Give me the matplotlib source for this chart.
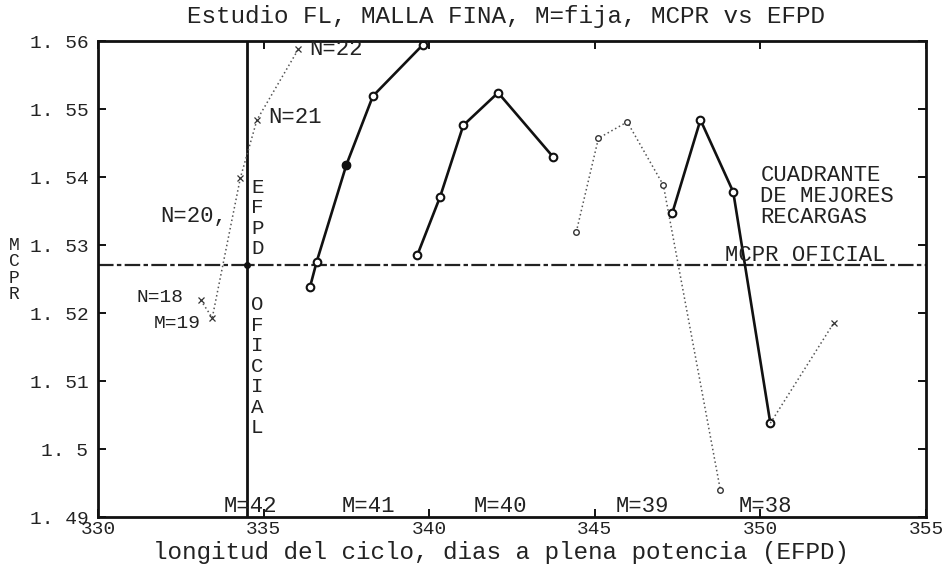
import matplotlib
matplotlib.use("Agg")
import matplotlib.pyplot as plt
from matplotlib.ticker import FixedLocator, FuncFormatter

# ---- data -------------------------------------------------------------
efpd_oficial = 334.5
mcpr_oficial = 1.527

# M = 42, N = 18..22 (dotted)
m42_efpd = [333.1, 333.45, 334.3, 334.8, 336.05]
m42_mcpr = [1.5219, 1.5193, 1.5399, 1.5484, 1.5588]
m42_labels = ["N=18", "M=19", "N=20,", "N=21", "N=22"]

# M = 41 (solid)
m41_efpd = [336.4, 336.6, 337.5, 338.3, 339.8]
m41_mcpr = [1.5238, 1.5275, 1.5418, 1.5519, 1.5594]

# M = 40 (solid)
m40_efpd = [339.64, 340.33, 341.03, 342.08, 343.75]
m40_mcpr = [1.5285, 1.5371, 1.5476, 1.5524, 1.5429]

# M = 39 (dotted)
m39_efpd = [344.44, 345.11, 345.98, 347.07, 348.79]
m39_mcpr = [1.5319, 1.5457, 1.5481, 1.5388, 1.4940]

# M = 38 (solid, plus dotted continuation)
m38_efpd = [347.34, 348.19, 349.18, 350.30]
m38_mcpr = [1.5347, 1.5484, 1.5378, 1.5038]
m38_ext_efpd = [352.21]
m38_ext_mcpr = [1.5185]

m_labels = ["M=42", "M=41", "M=40", "M=39", "M=38"]
m_label_x = [333.78, 337.37, 341.33, 345.62, 349.34]

x_ticks = [330, 335, 340, 345, 350, 355]
y_ticks = [1.49, 1.50, 1.51, 1.52, 1.53, 1.54, 1.55, 1.56]

title = "Estudio FL, MALLA FINA, M=fija, MCPR vs EFPD"
x_label = "longitud del ciclo, dias a plena potencia (EFPD)"
y_label = "M\nC\nP\nR"

# ---- figure -----------------------------------------------------------
W, H = 943, 580
plt.rcParams["font.family"] = ["Liberation Mono", "DejaVu Sans Mono"]
fig = plt.figure(figsize=(W / 100, H / 100), dpi=100)
ax = fig.add_axes([98 / W, 1 - 517 / H, (926 - 98) / W, (517 - 41) / H])

ink = "#111111"
txt = "#222222"
dotted = dict(color="#555555", lw=1.1, ls=(0, (1, 1.8)))
solid = dict(color=ink, lw=1.9, marker="o", ms=5.5, mfc="white", mec=ink, mew=1.5)

# reference lines
ax.axvline(efpd_oficial, color=ink, lw=2.0, zorder=2)
ax.axhline(mcpr_oficial, color="#222222", lw=1.6, ls=(0, (7, 1.5, 2, 1.5)), zorder=2)
ax.plot([efpd_oficial], [mcpr_oficial], "o", color=ink, ms=4, zorder=3)

# series
ax.plot(m42_efpd, m42_mcpr, marker="x", ms=4, mew=0.9, mec="#333333", **dotted)
ax.plot(m41_efpd, m41_mcpr, **solid)
ax.plot([m41_efpd[2]], [m41_mcpr[2]], "o", color=ink, ms=5.5, zorder=4)
ax.plot(m40_efpd, m40_mcpr, **solid)
ax.plot(m39_efpd, m39_mcpr, marker="o", ms=4, mfc="white", mec="#333333",
        mew=1.0, **dotted)
ax.plot(m38_efpd, m38_mcpr, **solid)
ax.plot([m38_efpd[-1]] + m38_ext_efpd, [m38_mcpr[-1]] + m38_ext_mcpr,
        marker="x", ms=4, mew=0.9, mec="#333333", markevery=[1], **dotted)

# N labels on the M=42 curve
n_offsets = [(-17, 3, "right", 14), (-12, -6, "right", 14),
             (-13, -39, "right", 16), (11, 2, "left", 16), (11, 0, "left", 16)]
for (xv, yv, lab, (dx, dy, ha, fs)) in zip(m42_efpd, m42_mcpr, m42_labels, n_offsets):
    ax.annotate(lab, xy=(xv, yv), xytext=(dx, dy), textcoords="offset pixels",
                ha=ha, va="center", fontsize=fs, color=txt, annotation_clip=False)

# M labels along the bottom
for lab, xv in zip(m_labels, m_label_x):
    ax.text(xv, 1.4915, lab, ha="left", va="center", fontsize=16, color=txt)

# official EFPD written along the vertical line
ax.text(334.62, 1.5340, "E\nF\nP\nD", ha="left", va="center", fontsize=15,
        linespacing=1.1, color=txt)
ax.text(334.62, 1.5122, "O\nF\nI\nC\nI\nA\nL", ha="left", va="center",
        fontsize=15, linespacing=1.1, color=txt)

ax.text(348.94, 1.5285, "MCPR OFICIAL", ha="left", va="center", fontsize=16,
        color=txt)
ax.text(350.0, 1.5418, "CUADRANTE\nDE MEJORES\nRECARGAS", ha="left", va="top",
        fontsize=16, linespacing=1.0, color=txt)

# axes
ax.set_xlim(330, 355)
ax.set_ylim(1.49, 1.56)
ax.xaxis.set_major_locator(FixedLocator(x_ticks))
ax.yaxis.set_major_locator(FixedLocator(y_ticks))
ax.xaxis.set_major_formatter(FuncFormatter(lambda v, p: f"{v:.0f}"))
ax.yaxis.set_major_formatter(
    FuncFormatter(lambda v, p: ("1. " + f"{v:.2f}"[2:].rstrip("0")) if v else ""))
ax.tick_params(direction="in", length=6, width=1.4, top=True, right=True,
               labelsize=14, colors=ink, labelcolor=txt)
ax.tick_params(axis="x", pad=3)
ax.tick_params(axis="y", pad=7)
for s in ax.spines.values():
    s.set_linewidth(2.0)
    s.set_color(ink)

fig.text(506 / W, 1 - 16 / H, title, ha="center", va="center", fontsize=17.5,
         color=txt)
fig.text(501 / W, 1 - 553 / H, x_label, ha="center", va="center", fontsize=17.5,
         color=txt)
fig.text(14 / W, 1 - 270 / H, y_label, ha="center", va="center", fontsize=13,
         linespacing=0.95, color=txt)

fig.savefig("out.png", dpi=100, facecolor="white")
